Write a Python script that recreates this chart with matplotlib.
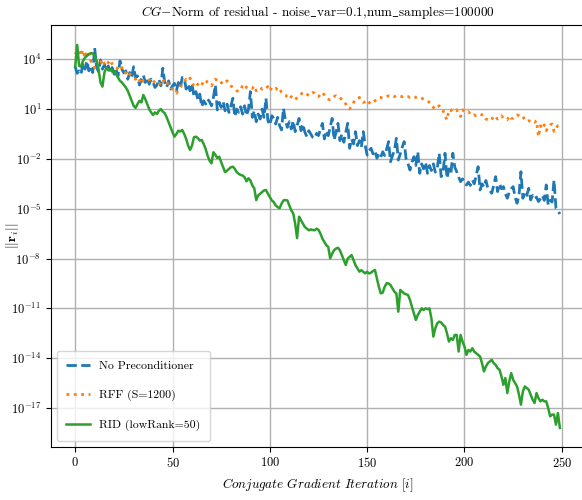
import numpy as np
import matplotlib
matplotlib.use("Agg")
import matplotlib.pyplot as plt
from matplotlib.ticker import FixedLocator, NullLocator

plt.rcParams["font.family"] = "serif"
plt.rcParams["font.serif"] = ["cmr10", "DejaVu Serif"]
plt.rcParams["mathtext.fontset"] = "cm"
plt.rcParams["axes.formatter.use_mathtext"] = True
plt.rcParams["axes.unicode_minus"] = False

# log10 of the residual norm, one value per iteration
no_precond_log = [
    3.55, 3.15, 3.3, 3.1, 3.8, 3.4, 3.9, 3.3, 3.6, 3.2,
    4.68, 3.5, 3.25, 3.96, 3.4, 3.7, 3.3, 3.6, 3.2, 3.5,
    3.1, 3.4, 3.0, 3.9, 3.4, 3.17, 3.3, 2.8, 3.2, 2.9,
    3.55, 2.9, 3.0, 2.45, 2.8, 3.05, 2.6, 2.9, 2.5, 2.8,
    2.6, 2.3, 2.45, 2.8, 2.4, 3.46, 2.6, 2.3, 2.7, 2.2,
    2.4, 2.55, 2.1, 2.6, 2.3, 2.9, 2.87, 2.2, 2.5, 2.1,
    2.55, 1.75, 2.05, 1.6, 1.9, 1.14, 1.5, 1.3, 1.6, 1.45,
    1.2, 1.7, 2.45, 0.95, 1.4, 1.1, 1.45, 0.9, 1.3, 0.8,
    1.2, 1.65, 0.54, 1.0, 0.8, 1.14, 0.7, 1.2, 0.6, 1.0,
    2.05, 0.5, 0.9, 0.24, 0.7, 0.4, 1.0, 0.5, 1.65, 0.3,
    0.04, 0.6, 0.44, 0.1, 0.5, 0.0, -0.26, 1.05, 0.3, -0.1,
    0.24, -0.2, 0.3, -0.36, 0.0, 0.44, -0.3, 0.1, -0.4, -0.66,
    -0.3, -0.5, -0.7, -0.76, -0.46, -0.6, -0.2, 0.14, -0.8, -0.3,
    -0.6, -0.1, 0.44, -0.86, -0.4, 0.14, -0.9, -0.5, -1.0, -0.4,
    0.14, -1.36, -0.8, -1.1, -0.36, -1.2, -0.9, -1.3, -0.36, -1.2,
    -1.77, -1.5, -1.36, -1.7, -1.5, -1.96, -1.7, -1.9, -1.57, -1.8,
    -1.4, -0.96, -2.17, -1.8, -1.5, -0.76, -2.07, -1.7, -1.3, -0.96,
    -2.0, -2.3, -2.67, -2.2, -1.87, -2.4, -1.57, -2.87, -2.3, -2.6,
    -2.2, -2.87, -2.4, -2.7, -2.3, -2.8, -2.57, -1.66, -3.07, -2.77,
    -1.66, -3.17, -2.6, -2.9, -1.66, -2.5, -2.77, -3.1, -3.37, -3.2,
    -3.5, -3.57, -3.4, -3.6, -3.27, -3.5, -3.0, -2.47, -3.87, -3.5,
    -3.7, -3.3, -3.77, -3.9, -4.07, -3.6, -3.07, -3.97, -3.5, -3.8,
    -3.67, -4.1, -4.37, -4.0, -3.8, -3.67, -4.3, -4.67, -4.2, -2.77,
    -4.37, -4.0, -4.2, -3.77, -4.47, -4.2, -4.4, -4.3, -4.57, -4.4,
    -4.2, -4.5, -3.57, -4.78, -4.5, -4.6, -3.27, -4.98, -5.1, -5.32,
]

rff_log = [
    4.3, 4.5, 4.56, 4.2, 4.56, 4.08, 4.4, 4.5, 3.9, 3.7,
    3.48, 3.9, 3.7, 3.8, 4.0, 3.7, 3.6, 3.8, 3.96, 3.7,
    3.55, 3.5, 3.4, 3.3, 3.5, 3.2, 3.17, 3.3, 3.1, 3.05,
    2.9, 2.8, 2.57, 2.7, 2.9, 2.65, 2.65, 2.7, 2.75, 2.87,
    2.7, 2.6, 2.5, 2.45, 2.6, 2.8, 2.55, 2.65, 2.4, 2.3,
    2.2, 2.1, 1.95, 2.15, 2.3, 2.5, 2.65, 2.8, 2.7, 2.87,
    2.6, 2.4, 2.3, 2.5, 2.6, 2.45, 2.7, 2.75, 2.6, 2.5,
    2.4, 2.6, 2.8, 2.7, 2.75, 2.6, 2.5, 2.65, 2.7, 2.6,
    2.4, 2.3, 2.2, 2.1, 2.05, 2.2, 2.4, 2.5, 2.3, 2.25,
    2.3, 2.25, 2.4, 2.1, 2.2, 2.3, 2.2, 2.3, 2.25, 2.35,
    2.1, 2.3, 2.2, 2.25, 2.15, 2.25, 2.0, 1.9, 1.85, 1.7,
    1.6, 1.75, 1.6, 1.55, 1.7, 1.85, 1.9, 2.0, 2.0, 1.9,
    1.8, 1.9, 2.0, 1.95, 1.8, 1.75, 1.9, 2.0, 1.85, 1.7,
    1.6, 1.55, 1.6, 1.75, 1.8, 1.7, 1.7, 1.55, 1.5, 1.3,
    1.1, 1.0, 1.2, 1.4, 1.55, 1.6, 1.7, 1.5, 1.4, 1.45,
    1.55, 1.4, 1.3, 1.4, 1.5, 1.6, 1.7, 1.7, 1.65, 1.7,
    1.75, 1.8, 1.75, 1.8, 1.75, 1.8, 1.8, 1.75, 1.75, 1.8,
    1.75, 1.75, 1.7, 1.75, 1.75, 1.7, 1.75, 1.7, 1.65, 1.6,
    1.55, 1.5, 1.4, 1.3, 1.1, 1.0, 1.15, 1.2, 1.0, 0.9,
    0.6, 0.35, 0.95, 0.9, 1.0, 0.9, 0.95, 0.7, 0.55, 0.95,
    0.85, 0.8, 0.85, 0.7, 0.6, 0.65, 0.6, 0.65, 0.7, 0.65,
    0.65, 0.4, 0.35, 0.4, 0.35, 0.6, 0.5, 0.4, 0.45, 0.6,
    0.45, 0.4, 0.35, 0.6, 0.45, 0.45, 0.6, 0.65, 0.6, 0.5,
    0.55, 0.35, 0.25, 0.3, 0.25, 0.3, 0.2, 0.3, -0.66, 0.0,
    -0.2, 0.05, -0.3, -0.1, 0.05, 0.1, -0.35, -0.13, 0.0, 0.04,
]

rid_log = [
    3.55, 4.86, 3.6, 3.55, 3.9, 4.1, 4.2, 4.3, 4.36, 4.35,
    4.2, 3.9, 3.4, 2.6, 2.35, 3.2, 3.48, 3.35, 3.4, 3.25,
    3.3, 3.1, 2.9, 2.7, 2.6, 2.45, 2.3, 2.1, 1.8, 1.5,
    1.2, 1.07, 1.3, 1.5, 1.4, 1.85, 1.6, 1.3, 1.0, 0.8,
    0.64, 0.8, 0.7, 0.9, 1.0, 0.85, 0.75, 0.5, 0.2, -0.1,
    -0.4, -0.66, -0.5, -0.3, -0.35, -0.26, -0.5, -0.8, -1.2, -1.46,
    -1.2, -0.7, -0.66, -0.75, -0.9, -0.86, -1.1, -1.4, -1.8, -2.1,
    -2.27, -1.6, -1.75, -1.95, -1.87, -2.2, -2.5, -2.8, -2.7, -2.6,
    -2.5, -2.47, -2.6, -2.8, -2.9, -2.97, -3.0, -3.1, -3.35, -3.17,
    -3.3, -3.6, -3.77, -4.48, -4.2, -4.1, -4.0, -3.9, -3.87, -4.1,
    -4.3, -4.5, -4.6, -4.8, -4.9, -4.98, -4.7, -4.5, -4.48, -4.5,
    -4.8, -5.1, -5.28, -5.9, -6.77, -5.48, -5.7, -5.9, -6.1, -6.2,
    -6.3, -6.25, -6.28, -6.3, -6.2, -6.28, -6.5, -6.8, -7.0, -7.2,
    -7.3, -7.99, -7.7, -7.5, -7.4, -7.35, -7.5, -7.8, -8.1, -8.39,
    -8.0, -7.9, -7.79, -8.1, -8.4, -8.6, -8.79, -8.7, -8.8, -8.89,
    -8.8, -8.9, -8.85, -8.75, -8.69, -9.2, -9.7, -10.1, -10.05, -9.7,
    -9.49, -9.5, -9.6, -9.8, -10.0, -10.1, -11.2, -9.89, -10.0, -10.1,
    -10.15, -10.2, -10.5, -10.9, -11.3, -11.7, -11.4, -11.2, -11.0, -11.1,
    -11.0, -11.05, -11.0, -11.6, -12.7, -12.2, -11.9, -11.8, -11.85, -12.0,
    -12.1, -12.5, -13.0, -12.8, -12.9, -12.6, -12.6, -13.6, -12.6, -13.0,
    -13.3, -13.8, -13.5, -13.6, -13.4, -13.6, -13.7, -13.8, -13.9, -14.3,
    -14.8, -14.5, -14.3, -14.2, -14.1, -14.3, -14.4, -14.6, -14.7, -15.1,
    -15.6, -15.2, -16.1, -15.4, -14.9, -15.3, -15.5, -15.7, -16.2, -16.8,
    -16.0, -15.7, -15.8, -15.9, -16.2, -16.5, -16.7, -16.1, -16.4, -16.6,
    -16.5, -16.6, -16.6, -17.0, -17.5, -17.4, -17.4, -18.0, -17.3, -18.2,
]

labels = ["No Preconditioner", "RFF (S=1200)", "RID (lowRank=50)"]
ytick_exps = [4, 1, -2, -5, -8, -11, -14, -17]
xticks = [0, 50, 100, 150, 200, 250]

iters = np.arange(len(rid_log))

fig = plt.figure(figsize=(5.82, 5.0), dpi=100)
ax = fig.add_axes([0.0876, 0.1066, 0.916, 0.844])

ax.plot(iters, 10.0 ** np.array(no_precond_log), linestyle="--", color="C0", lw=2, label=labels[0])
ax.plot(iters, 10.0 ** np.array(rff_log), linestyle=":", color="C1", lw=2, label=labels[1])
ax.plot(iters, 10.0 ** np.array(rid_log), linestyle="-", color="C2", lw=1.8, label=labels[2])

ax.set_yscale("log")
ax.set_xlim(-12.45, 261.45)
ax.set_ylim(10.0 ** -19.33, 10.0 ** 6.08)
ax.yaxis.set_major_locator(FixedLocator([10.0 ** e for e in ytick_exps]))
ax.yaxis.set_minor_locator(NullLocator())
ax.set_xticks(xticks)
ax.tick_params(labelsize=9)

ax.grid(True, color="#b0b0b0", lw=1)
ax.set_axisbelow(True)

ax.set_title(r"$CG{-}$Norm of residual - noise$\_$var=0.1,num$\_$samples=100000", fontsize=9.5)
ax.set_xlabel(r"$\mathit{Conjugate\ Gradient\ Iteration}\ [i]$", fontsize=9.5)
ax.set_ylabel(r"$||\mathbf{r}_i||$", fontsize=10)
ax.yaxis.set_label_coords(-0.056, 0.5)

ax.legend(loc="lower left", fontsize=8.5, labelspacing=1.6, borderpad=0.8)

fig.savefig("out.png", dpi=100)
